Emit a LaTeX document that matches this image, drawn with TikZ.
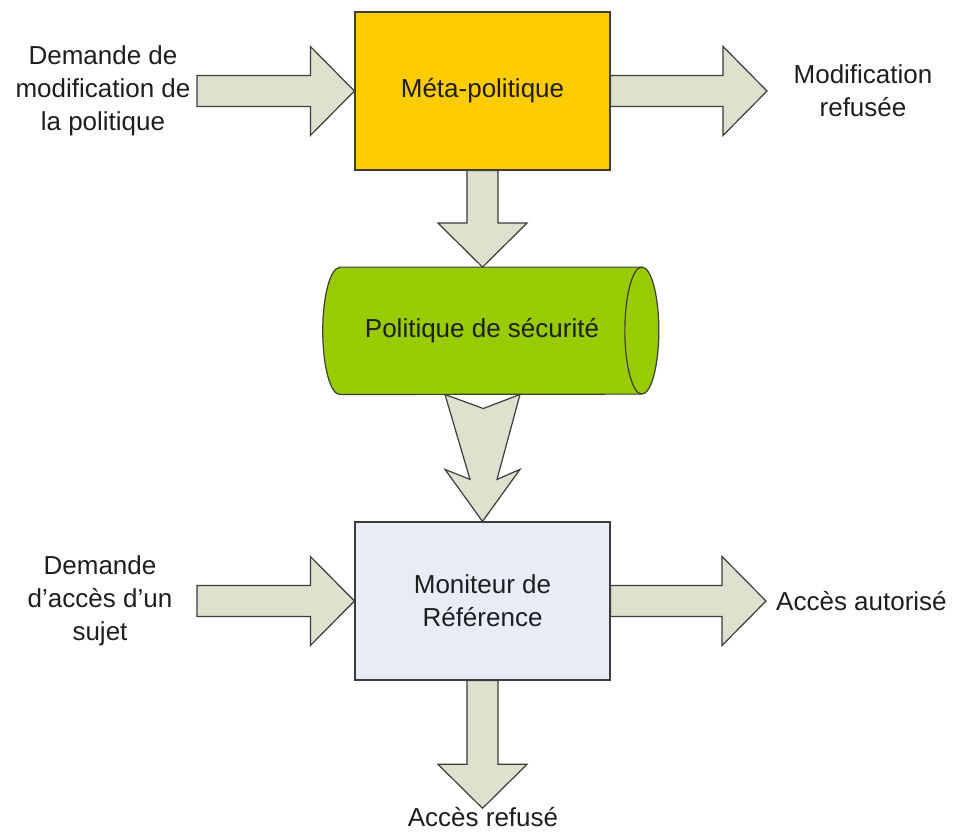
\documentclass[tikz,border=0pt]{standalone}
\usepackage{fontspec}
\setmainfont{Liberation Sans}
\usetikzlibrary{calc}

\definecolor{metafill}{HTML}{FFCC00}
\definecolor{polfill}{HTML}{99CC00}
\definecolor{monfill}{HTML}{E7ECF6}
\definecolor{arrowfill}{HTML}{DDE1CD}
\definecolor{edgecol}{HTML}{3C3C3C}
\definecolor{txtcol}{HTML}{1E1E1E}

\tikzset{
  box/.style={draw=edgecol, line width=1.2pt, rectangle, inner sep=0pt,
    minimum width=255pt, minimum height=158pt, align=center,
    font=\fontsize{26}{33}\selectfont, text=txtcol},
  lbl/.style={align=center, inner sep=0pt,
    font=\fontsize{26}{33}\selectfont, text=txtcol},
  blockarrow/.style={draw=edgecol, fill=arrowfill, line width=1.2pt, line join=miter},
}

% straight block arrow from #1 to #2 (shaft half-width 15.5, head half-width 44.5, head length 44)
\newcommand{\blockarrowpath}[2]{%
  \draw[blockarrow]
    ($(#1)!15.5pt!90:(#2)$) --
    ($($(#2)!44pt!(#1)$)!15.5pt!-90:(#1)$) --
    ($($(#2)!44pt!(#1)$)!44.5pt!-90:(#1)$) --
    (#2) --
    ($($(#2)!44pt!(#1)$)!44.5pt!90:(#1)$) --
    ($($(#2)!44pt!(#1)$)!15.5pt!90:(#1)$) --
    ($(#1)!15.5pt!-90:(#2)$) -- cycle;}

\begin{document}
\begin{tikzpicture}[x=1pt,y=-1pt]
  \useasboundingbox (0,0) rectangle (954,832);

  % main blocks
  \node[box, fill=metafill] (meta) at (482.5,91) {Méta-politique};
  \node[box, fill=monfill] (mon) at (482.5,601) {Moniteur de\\Référence};

  % security policy store (horizontal cylinder)
  \node[minimum width=301.7pt, minimum height=127pt, inner sep=0pt] (pol) at (490.8,330.8) {};
  \draw[draw=edgecol, fill=polfill, line width=1.2pt]
    (pol.north west) -- (pol.north east)
    arc[start angle=90, end angle=-90, x radius=17pt, y radius=63.5pt]
    -- (pol.south west)
    arc[start angle=270, end angle=90, x radius=17pt, y radius=63.5pt] -- cycle;
  \draw[draw=edgecol, line width=1.2pt]
    (pol.north east) arc[start angle=90, end angle=270, x radius=17pt, y radius=63.5pt];
  \node[lbl] (poltext) at (482,330.8) {Politique de sécurité};

  % labels
  \node[lbl] (reqmod) at (103,91) {Demande de\\modification de\\la politique};
  \node[lbl] (modref) at (863,91) {Modification\\refusée};
  \node[lbl] (reqacc) at (100,601) {Demande\\d’accès d’un\\sujet};
  \node[lbl, anchor=west] (accok) at (776,601) {Accès autorisé};
  \node[lbl] (accno) at (483,817) {Accès refusé};

  % arrow end points
  \coordinate (inA) at (197,91);
  \coordinate (outA) at (767,91);
  \coordinate (inB) at (197,601);
  \coordinate (outB) at (766,601);
  \coordinate (outC) at (482.5,808.3);
  \coordinate (polTop) at (meta.south |- pol.north);

  \blockarrowpath{inA}{meta.west}
  \blockarrowpath{meta.east}{outA}
  \blockarrowpath{meta.south}{polTop}
  \blockarrowpath{inB}{mon.west}
  \blockarrowpath{mon.east}{outB}
  \blockarrowpath{mon.south}{outC}

  % notched arrow from the policy store to the reference monitor
  \coordinate (tail) at (pol.south -| mon.north);
  \draw[blockarrow]
    ($(tail)+(-37.5,0)$) --
    ($(mon.north)+(-12.5,-42)$) --
    ($(mon.north)+(-37.5,-52)$) --
    (mon.north) --
    ($(mon.north)+(37.5,-52)$) --
    ($(mon.north)+(14.5,-42)$) --
    ($(tail)+(37.5,0)$) --
    ($(tail)+(0.8,14)$) -- cycle;
\end{tikzpicture}
\end{document}
